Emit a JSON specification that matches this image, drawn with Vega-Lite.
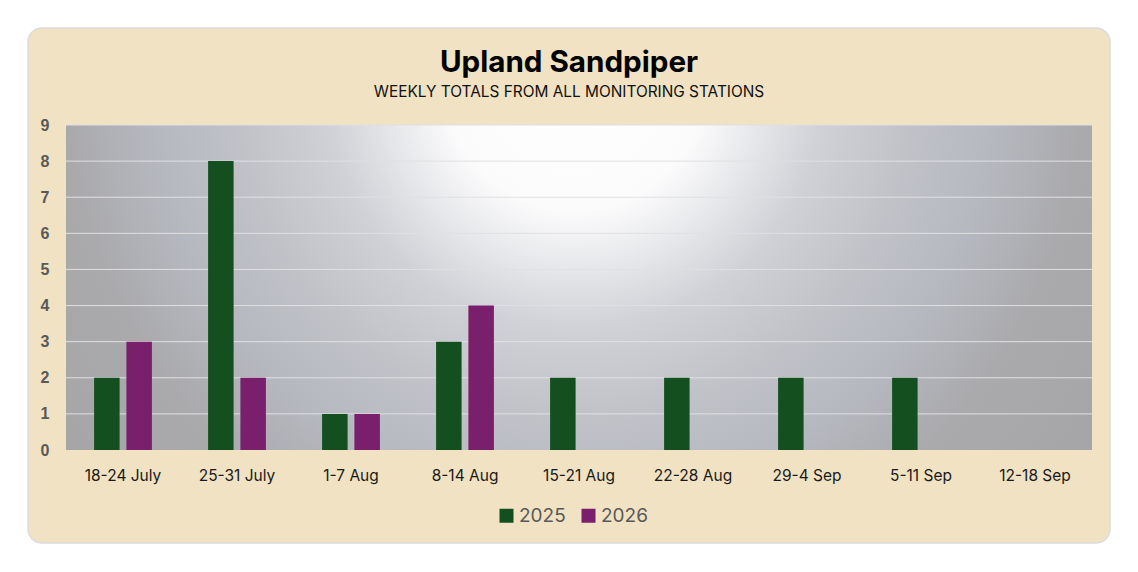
{
  "$schema": "https://vega.github.io/schema/vega-lite/v6.json",
  "width": 1026,
  "height": 325,
  "autosize": {"type": "none"},
  "padding": {"left": 66, "top": 125, "right": 46, "bottom": 122},
  "background": "white",
  "title": {
    "text": "Upland Sandpiper",
    "subtitle": "WEEKLY TOTALS FROM ALL MONITORING STATIONS",
    "font": "Inter",
    "fontSize": 29.6,
    "fontWeight": "bold",
    "color": "#000000",
    "subtitleFont": "Inter",
    "subtitleFontSize": 15.4,
    "subtitleColor": "#111111",
    "subtitlePadding": 6,
    "anchor": "middle",
    "frame": "group",
    "dx": -10,
    "offset": -74,
    "zindex": 1
  },
  "config": {
    "view": {"stroke": null}
  },
  "layer": [
    {
      "data": {"values": [{"left": -0.333, "right": 9.158, "bottom": -2.575, "top": 11.686}]},
      "mark": {"type": "rect", "fill": "#f0e2c2", "cornerRadius": 14, "stroke": "#dcdcdc", "strokeWidth": 1.5},
      "encoding": {
        "x": {"field": "left", "type": "quantitative", "scale": {"domain": [0, 9], "nice": false, "zero": false}, "axis": null},
        "x2": {"field": "right"},
        "y": {"field": "bottom", "type": "quantitative", "scale": {"domain": [0, 9], "nice": false}, "axis": null},
        "y2": {"field": "top"}
      }
    },
    {
      "data": {"values": [{"lo": 0, "hi": 9}]},
      "mark": {
        "type": "rect",
        "fill": {
          "gradient": "radial",
          "x1": 0.496, "y1": 0.298, "r1": 0,
          "x2": 0.496, "y2": 0.298, "r2": 0.634,
          "stops": [
            {"offset": 0, "color": "#ffffff"},
            {"offset": 0.2, "color": "#fbfbfc"},
            {"offset": 0.29, "color": "#e6e7ea"},
            {"offset": 0.385, "color": "#d0d1d6"},
            {"offset": 0.52, "color": "#c0c2c8"},
            {"offset": 0.65, "color": "#b6b8bf"},
            {"offset": 0.78, "color": "#aaaaad"},
            {"offset": 1, "color": "#a5a5a8"}
          ]
        }
      },
      "encoding": {
        "y": {"field": "lo", "type": "quantitative", "scale": {"domain": [0, 9], "nice": false}, "axis": null},
        "y2": {"field": "hi"}
      }
    },
    {
      "data": {"values": [{"level": 1}, {"level": 2}, {"level": 3}, {"level": 4}, {"level": 5}, {"level": 6}, {"level": 7}, {"level": 8}, {"level": 9}]},
      "mark": {"type": "rule", "stroke": "#e0e0e3", "strokeWidth": 1},
      "encoding": {
        "y": {"field": "level", "type": "quantitative", "scale": {"domain": [0, 9], "nice": false}, "axis": null}
      }
    },
    {
      "data": {
        "values": [
          {"week": "18-24 July", "year": "2025", "count": 2},
          {"week": "18-24 July", "year": "2026", "count": 3},
          {"week": "25-31 July", "year": "2025", "count": 8},
          {"week": "25-31 July", "year": "2026", "count": 2},
          {"week": "1-7 Aug", "year": "2025", "count": 1},
          {"week": "1-7 Aug", "year": "2026", "count": 1},
          {"week": "8-14 Aug", "year": "2025", "count": 3},
          {"week": "8-14 Aug", "year": "2026", "count": 4},
          {"week": "15-21 Aug", "year": "2025", "count": 2},
          {"week": "15-21 Aug", "year": "2026", "count": 0},
          {"week": "22-28 Aug", "year": "2025", "count": 2},
          {"week": "22-28 Aug", "year": "2026", "count": 0},
          {"week": "29-4 Sep", "year": "2025", "count": 2},
          {"week": "29-4 Sep", "year": "2026", "count": 0},
          {"week": "5-11 Sep", "year": "2025", "count": 2},
          {"week": "5-11 Sep", "year": "2026", "count": 0},
          {"week": "12-18 Sep", "year": "2025", "count": 0},
          {"week": "12-18 Sep", "year": "2026", "count": 0}
        ]
      },
      "mark": {"type": "bar"},
      "encoding": {
        "x": {
          "field": "week",
          "type": "nominal",
          "sort": null,
          "scale": {"paddingInner": 0, "paddingOuter": 0},
          "axis": {
            "title": null,
            "labelAngle": 0,
            "labelFont": "Inter",
            "labelFontSize": 15.5,
            "labelColor": "#1a1a1a",
            "labelPadding": 18,
            "ticks": false,
            "domain": false,
            "grid": false,
            "zindex": 1
          }
        },
        "xOffset": {
          "field": "year",
          "type": "nominal",
          "scale": {"paddingInner": 0.21, "paddingOuter": 0.87}
        },
        "y": {
          "field": "count",
          "type": "quantitative",
          "scale": {"domain": [0, 9], "nice": false},
          "axis": {
            "title": null,
            "orient": "left",
            "values": [0, 1, 2, 3, 4, 5, 6, 7, 8, 9],
            "labelFont": "Liberation Sans",
            "labelFontWeight": "bold",
            "labelFontSize": 16,
            "labelColor": "#595959",
            "labelPadding": 17,
            "ticks": false,
            "domain": false,
            "grid": false,
            "zindex": 1
          }
        },
        "color": {
          "field": "year",
          "type": "nominal",
          "scale": {"domain": ["2025", "2026"], "range": ["#14501f", "#7a1f6c"]},
          "legend": {
            "title": null,
            "orient": "none",
            "direction": "horizontal",
            "legendX": 431,
            "legendY": 381,
            "symbolType": "square",
            "symbolSize": 196,
            "symbolStrokeWidth": 0,
            "labelFont": "Inter",
            "labelFontSize": 19,
            "labelColor": "#595959",
            "labelOffset": 3,
            "columnPadding": 13,
            "zindex": 1
          }
        }
      }
    }
  ],
  "resolve": {"scale": {"x": "independent"}, "axis": {"x": "independent", "y": "independent"}}
}
